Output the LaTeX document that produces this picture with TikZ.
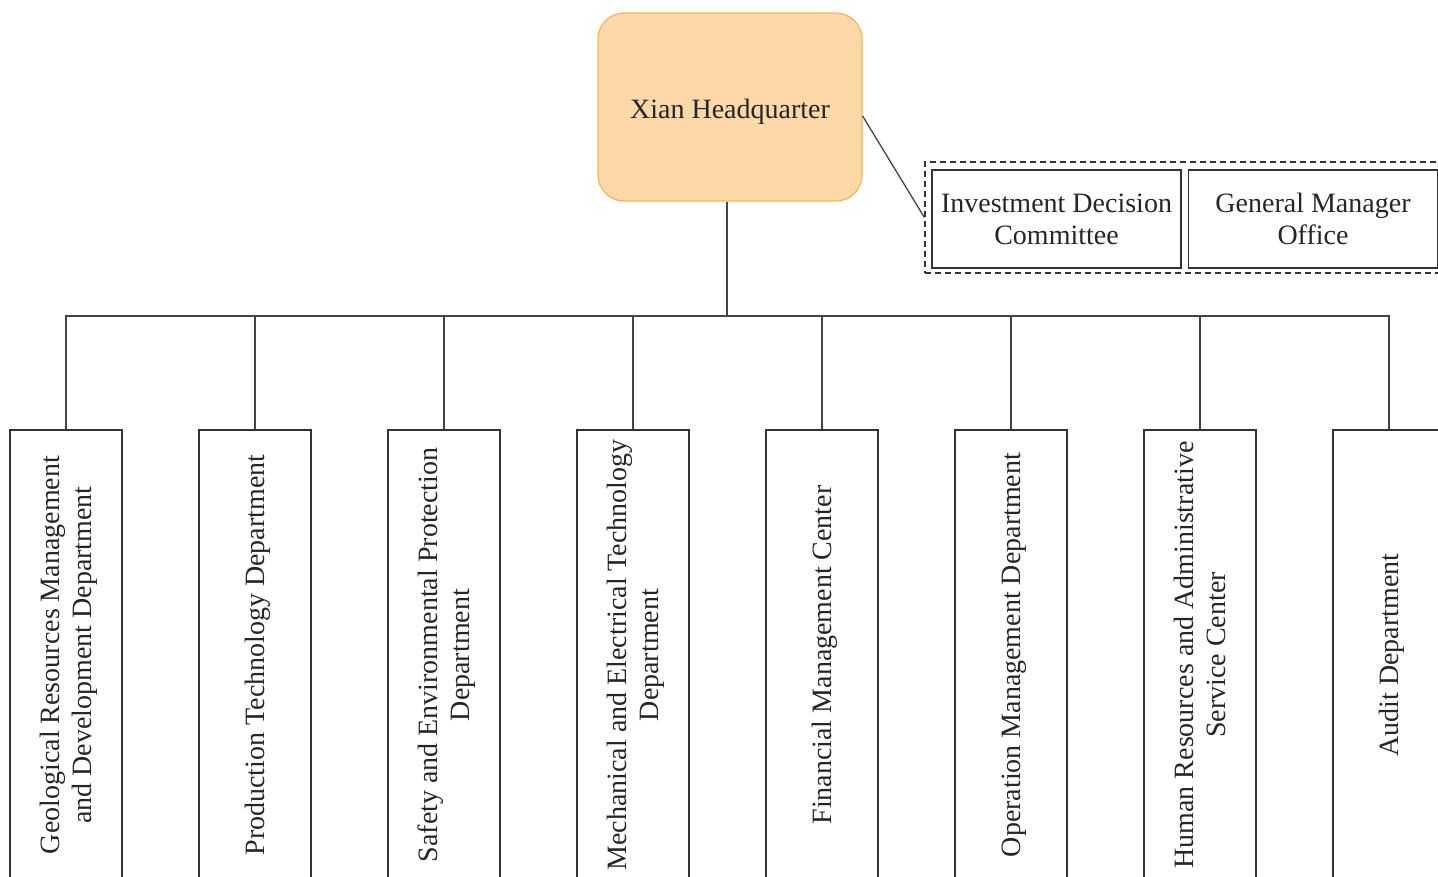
\documentclass[tikz,border=0pt]{standalone}
\usepackage{fontspec}
\setmainfont{Liberation Serif}
\usetikzlibrary{calc}
\definecolor{hqfill}{HTML}{FDD8A8}
\definecolor{hqline}{HTML}{F6B65A}
\definecolor{conn}{HTML}{444444}
\definecolor{boxline}{HTML}{333333}
\tikzset{
  txt/.style={font=\fontsize{28}{32}\selectfont, text=black!85},
  hqbox/.style={txt, draw=hqline, fill=hqfill, rounded corners=26pt, line width=1.2pt, minimum width=264pt, minimum height=188pt, inner sep=0pt, text height=28.3pt, text depth=6pt},
  smallbox/.style={txt, draw=boxline, line width=1.4pt, minimum width=249pt, minimum height=98pt, inner sep=0pt, align=center},
  groupbox/.style={draw=boxline, line width=1.2pt, dash pattern=on 6pt off 4pt, minimum width=520pt, minimum height=111pt, inner sep=0pt},
  deptbox/.style={txt, draw=boxline, line width=1.4pt, minimum width=112pt, minimum height=450pt, inner sep=0pt},
  link/.style={draw=conn, line width=1.3pt}
}
\newcommand{\vtext}[1]{\hspace*{7pt}\rotatebox{90}{\begin{tabular}{@{}c@{}}#1\end{tabular}}}
\begin{document}
\begin{tikzpicture}[x=1pt,y=-1pt]
\useasboundingbox (0,0) rectangle (1438,877);
\clip (0,0) rectangle (1438,877);
\node[hqbox] (hq) at (730,107) {Xian Headquarter};
\node[groupbox] (grp) at (1185,217.5) {};
\node[smallbox] (idc) at (1056.5,219) {Investment Decision\\Committee};
\node[smallbox] (gmo) at (1313,219) {General Manager\\Office};
\coordinate (bus) at (727,316);
\node[deptbox] (d1) at (66,655) {\vtext{Geological Resources Management\\and Development Department}};
\node[deptbox] (d2) at (255,655) {\vtext{Production Technology Department}};
\node[deptbox] (d3) at (444,655) {\vtext{Safety and Environmental Protection\\Department}};
\node[deptbox] (d4) at (633,655) {\vtext{Mechanical and Electrical Technology\\Department}};
\node[deptbox] (d5) at (822,655) {\vtext{Financial Management Center}};
\node[deptbox] (d6) at (1011,655) {\vtext{Operation Management Department}};
\node[deptbox] (d7) at (1200,655) {\vtext{Human Resources and Administrative\\Service Center}};
\node[deptbox] (d8) at (1389,655) {\vtext{Audit Department}};
\draw[link] ([yshift=-9pt]hq.east) -- (grp.west);
\draw[link] (bus |- hq.south) -- (bus);
\draw[link] (d1.north) -- (d1.north |- bus) -- (d8.north |- bus) -- (d8.north);
\foreach \i in {2,...,7} {\draw[link] (d\i.north) -- (d\i.north |- bus);}
\end{tikzpicture}
\end{document}
